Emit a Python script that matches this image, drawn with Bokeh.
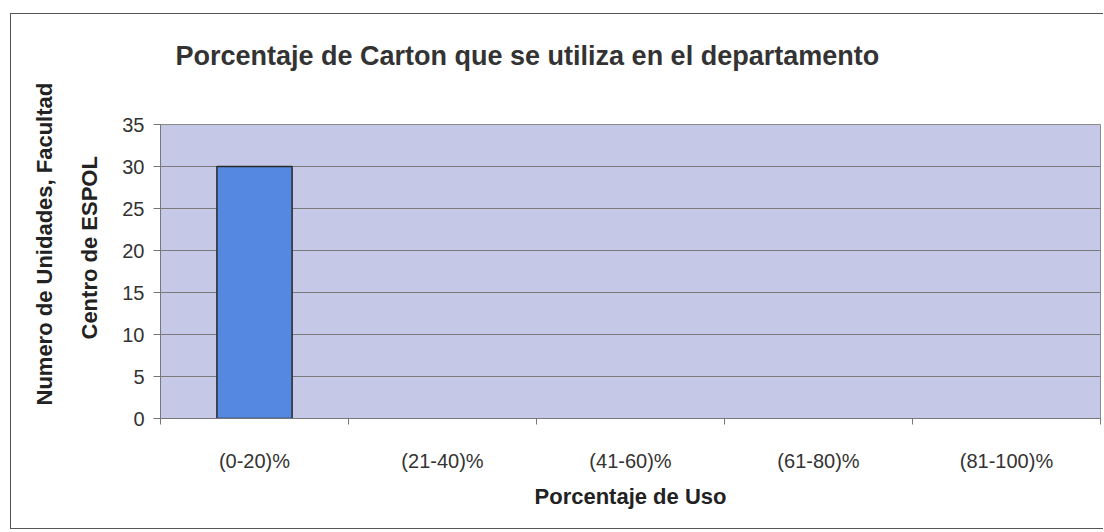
from bokeh.plotting import figure
from bokeh.models import Title, FixedTicker, Range1d
from bokeh.embed import file_html
from bokeh.resources import INLINE

categories = ["(0-20)%", "(21-40)%", "(41-60)%", "(61-80)%", "(81-100)%"]
counts = [30, 0, 0, 0, 0]
y_ticks = [0, 5, 10, 15, 20, 25, 30, 35]

title_text = "Porcentaje de Carton que se utiliza en el departamento"
x_title = "Porcentaje de Uso"
y_title_1 = "Numero de Unidades, Facultad"
y_title_2 = "Centro de ESPOL"

FONT = "Liberation Sans"
n = len(categories)
centers = [i + 0.5 for i in range(n)]
bounds = [float(i) for i in range(n + 1)]
bar_lines = ["#2a2a2a" if v > 0 else None for v in counts]

p = figure(width=1093, height=516, output_backend="svg", toolbar_location=None,
           x_range=Range1d(0, n), y_range=Range1d(0, 35),
           min_border_left=149, min_border_right=4, min_border_top=110, min_border_bottom=112)
p.styles = {"margin-left": "10px", "margin-top": "13px",
            "border-left": "1px solid #555", "border-top": "1px solid #555",
            "border-bottom": "1px solid #555"}

p.background_fill_color = "#c5c8e6"
p.border_fill_color = "white"
p.outline_line_color = "#8a8a8a"
p.outline_line_width = 1

p.vbar(x=centers, top=counts, width=0.4, fill_color="#5588e0",
       line_color=bar_lines, line_width=1.5)

# main title (a blank second line lifts it well above the plot area)
p.title.text = title_text + "\n "
p.title.align = "left"
p.title.offset = 15
p.title.vertical_align = "top"
p.title.standoff = 44
p.title.text_font = FONT
p.title.text_font_style = "bold"
p.title.text_font_size = "27px"
p.title.text_color = "#333333"

# axes
p.xaxis.ticker = FixedTicker(ticks=centers, minor_ticks=bounds)
p.xaxis.major_label_overrides = {c: lab for c, lab in zip(centers, categories)}
p.xaxis.major_tick_line_color = None
p.xaxis.minor_tick_line_color = "#777777"
p.xaxis.minor_tick_in = 0
p.xaxis.minor_tick_out = 6
p.xaxis.major_label_standoff = 25
p.xaxis.axis_line_color = "#777777"
p.xaxis.axis_label = x_title
p.xaxis.axis_label_text_font = FONT
p.xaxis.axis_label_text_font_style = "bold"
p.xaxis.axis_label_text_font_size = "22px"
p.xaxis.axis_label_text_color = "#222222"
p.xaxis.axis_label_standoff = 9

p.yaxis.ticker = FixedTicker(ticks=y_ticks)
p.yaxis.minor_tick_line_color = None
p.yaxis.major_tick_in = 0
p.yaxis.major_tick_out = 7
p.yaxis.major_tick_line_color = "#777777"
p.yaxis.axis_line_color = "#777777"
p.yaxis.major_label_standoff = 9

for ax in (p.xaxis, p.yaxis):
    ax.major_label_text_font = FONT
    ax.major_label_text_font_size = "20px"
    ax.major_label_text_color = "#333333"

p.xgrid.grid_line_color = None
p.ygrid.ticker = FixedTicker(ticks=y_ticks)
p.ygrid.grid_line_color = "#7a7a7a"
p.ygrid.grid_line_width = 1

# two-line vertical y title as stacked left-side titles
t2 = Title(text=y_title_2, align="left", offset=79, standoff=36,
           text_font=FONT, text_font_style="bold", text_font_size="22px",
           text_color="#222222")
t1 = Title(text=y_title_1, align="left", offset=13, standoff=0,
           text_font=FONT, text_font_style="bold", text_font_size="22px",
           text_color="#222222")
p.add_layout(t2, "left")
p.add_layout(t1, "left")

open("out.html", "w").write(file_html(p, INLINE))
